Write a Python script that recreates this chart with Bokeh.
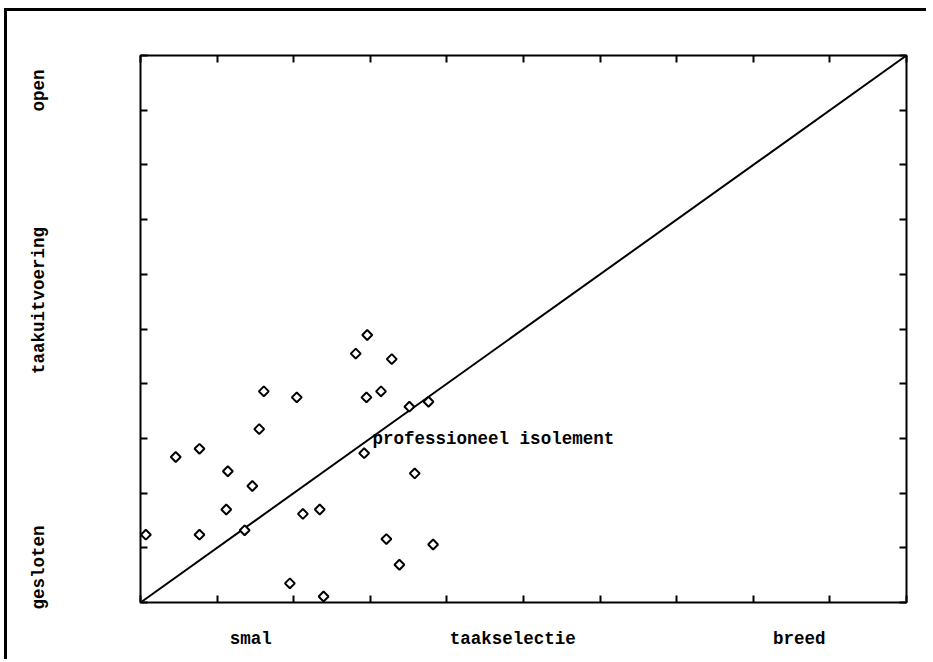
import numpy as np
from bokeh.plotting import figure
from bokeh.models import LinearAxis, FixedTicker, Range1d
from bokeh.embed import file_html
from bokeh.resources import INLINE
from bokeh.core.properties import value

# --- data ---
taakselectie = [0.07, 0.46, 0.77, 0.77, 1.14, 1.12, 1.36, 1.46, 1.55, 1.61,
                2.04, 1.95, 2.12, 2.34, 2.39, 2.81, 2.96, 2.95, 3.14, 3.28,
                2.92, 3.51, 3.76, 3.58, 3.21, 3.38, 3.82]
taakuitvoering = [1.24, 2.66, 2.81, 1.24, 2.40, 1.70, 1.32, 2.13, 3.17, 3.86,
                  3.75, 0.35, 1.62, 1.70, 0.11, 4.55, 4.89, 3.75, 3.86, 4.45,
                  2.73, 3.58, 3.67, 2.36, 1.16, 0.69, 1.06]
diag_x = [0, 10]
diag_y = [0, 10]
tick_values = list(range(11))
x_label_pos = [1.44, 4.86, 8.6]
x_labels = ["smal", "taakselectie", "breed"]
y_label_pos = [0.64, 5.52, 9.36]
y_labels = ["gesloten", "taakuitvoering", "open"]
annotation = ["professioneel isolement"]
annotation_x = [3.03]
annotation_y = [2.98]

FONT = "Liberation Mono"
FSIZE = "17.5px"

p = figure(width=922, height=651, x_range=Range1d(0, 10), y_range=Range1d(0, 10),
           output_backend="svg", toolbar_location=None,
           x_axis_location=None, y_axis_location=None,
           min_border_left=133, min_border_top=44, min_border_right=23, min_border_bottom=60)
p.xgrid.visible = False
p.ygrid.visible = False
p.outline_line_color = "black"
p.outline_line_width = 2
p.background_fill_color = "white"
p.border_fill_color = "white"
p.styles = {"box-shadow": "-3px -3px 0 0 black"}
p.margin = (11, 0, 0, 7)


def tick_axis(major, labels):
    ax = LinearAxis(ticker=FixedTicker(ticks=major, minor_ticks=tick_values))
    ax.axis_line_color = None
    ax.major_tick_line_color = None
    ax.major_tick_in = 0
    ax.major_tick_out = 0
    ax.minor_tick_in = 7
    ax.minor_tick_out = 0
    ax.minor_tick_line_width = 2
    ax.minor_tick_line_color = "black"
    if labels:
        ax.major_label_overrides = {pos: lab for pos, lab in zip(major, labels)}
        ax.major_label_text_font = FONT
        ax.major_label_text_font_size = FSIZE
        ax.major_label_text_font_style = "bold"
        ax.major_label_text_color = "black"
    else:
        ax.major_label_text_font_size = "0px"
    return ax


bottom = tick_axis(x_label_pos, x_labels)
bottom.major_label_standoff = 26
p.add_layout(bottom, "below")

left = tick_axis(y_label_pos, y_labels)
left.major_label_orientation = "vertical"
left.major_label_standoff = 91
p.add_layout(left, "left")

p.add_layout(tick_axis([], None), "above")
p.add_layout(tick_axis([], None), "right")

p.line(diag_x, diag_y, line_color="black", line_width=2)
p.scatter(taakselectie, taakuitvoering, marker="square", angle=np.pi / 4, size=7,
          fill_color="white", line_color="black", line_width=2)
p.text(x=annotation_x, y=annotation_y, text=annotation, text_font=value(FONT),
       text_font_size=FSIZE, text_font_style="bold", text_baseline="middle",
       text_align="left", text_color="black")

open("out.html", "w").write(file_html(p, INLINE))
